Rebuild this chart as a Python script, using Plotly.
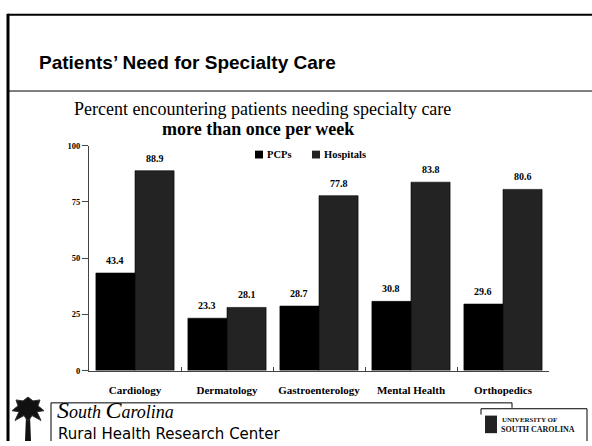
import plotly.graph_objects as go

W, H = 592, 446

categories = ["Cardiology", "Dermatology", "Gastroenterology", "Mental Health", "Orthopedics"]
pcps = [43.4, 23.3, 28.7, 30.8, 29.6]
hospitals = [88.9, 28.1, 77.8, 83.8, 80.6]
series_names = ["PCPs", "Hospitals"]
series_colors = ["#000000", "#232323"]
y_ticks = [0, 25, 50, 75, 100]

title_text = "Patients’ Need for Specialty Care"
subtitle1 = "Percent encountering patients needing specialty care"
subtitle2 = "more than once per week"


def px(x):
    return x / W


def py(y):
    return 1 - y / H


SERIF = "Liberation Serif, Times New Roman, serif"
SANS = "Liberation Sans, Arial, sans-serif"

fig = go.Figure()
for name, vals, col in zip(series_names, [pcps, hospitals], series_colors):
    fig.add_trace(go.Bar(
        x=categories, y=vals, name=name,
        marker=dict(color=col, line=dict(color="#000000", width=0.6)),
        showlegend=False, hoverinfo="x+y",
    ))

annotations = []
# value labels above bars
for i, (name, vals) in enumerate(zip(series_names, [pcps, hospitals])):
    for cat_i, v in enumerate(vals):
        annotations.append(dict(
            x=cat_i + (-0.2125 if i == 0 else 0.2125), y=v, xref="x", yref="y",
            text=f"<b>{v:.1f}</b>", showarrow=False, yanchor="bottom", yshift=5,
            font=dict(family=SERIF, size=10, color="#000000"),
        ))

# manual legend
leg_items = [(255, series_names[0], series_colors[0]), (312, series_names[1], series_colors[1])]
shapes = []
for lx, name, col in leg_items:
    shapes.append(dict(type="rect", xref="paper", yref="paper",
                       x0=px(lx), x1=px(lx + 8), y0=py(157), y1=py(149),
                       fillcolor=col, line=dict(width=0)))
    annotations.append(dict(x=px(lx + 10), y=py(153), xref="paper", yref="paper",
                            text=f"<b>{name}</b>", showarrow=False, xanchor="left", yanchor="middle",
                            font=dict(family=SERIF, size=10.5, color="#000000")))

# title & subtitles
annotations.append(dict(x=px(37), y=py(59), xref="paper", yref="paper", text=f"<b>{title_text}</b>",
                        showarrow=False, xanchor="left", yanchor="middle",
                        font=dict(family=SANS, size=19, color="#000000")))
annotations.append(dict(x=px(262), y=py(106), xref="paper", yref="paper", text=subtitle1,
                        showarrow=False, xanchor="center", yanchor="middle",
                        font=dict(family=SERIF, size=18, color="#000000")))
annotations.append(dict(x=px(258), y=py(127), xref="paper", yref="paper", text=f"<b>{subtitle2}</b>",
                        showarrow=False, xanchor="center", yanchor="middle",
                        font=dict(family=SERIF, size=18, color="#000000")))

# footer texts
annotations.append(dict(x=px(55), y=py(414), xref="paper", yref="paper",
                        text="<i><span style='font-size:24px'>S</span>outh <span style='font-size:24px'>C</span>arolina</i>",
                        showarrow=False, xanchor="left", yanchor="middle",
                        font=dict(family=SERIF, size=18, color="#000000")))
annotations.append(dict(x=px(56), y=py(439), xref="paper", yref="paper",
                        text="Rural Health Research Center",
                        showarrow=False, xanchor="left", yanchor="middle",
                        font=dict(family="DejaVu Sans, sans-serif", size=15, color="#000000")))
annotations.append(dict(x=px(500), y=py(425), xref="paper", yref="paper",
                        text="<b>UNIVERSITY OF</b>", showarrow=False, xanchor="left", yanchor="middle",
                        font=dict(family=SERIF, size=7, color="#111111")))
annotations.append(dict(x=px(499), y=py(434), xref="paper", yref="paper",
                        text="<b>SOUTH CAROLINA</b>", showarrow=False, xanchor="left", yanchor="middle",
                        font=dict(family=SERIF, size=8, color="#111111")))

line_k = dict(color="#000000", width=1)
# frame
shapes += [
    dict(type="line", xref="paper", yref="paper", x0=px(8), x1=px(8), y0=py(9), y1=py(446),
         line=dict(color="#000000", width=3)),
    dict(type="line", xref="paper", yref="paper", x0=px(8), x1=px(592), y0=py(10), y1=py(10),
         line=dict(color="#000000", width=2)),
    dict(type="line", xref="paper", yref="paper", x0=px(8), x1=px(592), y0=py(88), y1=py(88),
         line=dict(color="#000000", width=1)),
    # SC box
    dict(type="path", xref="paper", yref="paper",
         path=f"M{px(51)},{py(446)} L{px(51)},{py(407)} L{px(512)},{py(407)} L{px(512)},{py(412)}",
         line=line_k),
    # USC box
    dict(type="path", xref="paper", yref="paper",
         path=f"M{px(481)},{py(419)} L{px(481)},{py(413)} L{px(587)},{py(413)} L{px(587)},{py(446)}",
         line=line_k),
    # USC emblem
    dict(type="rect", xref="paper", yref="paper", x0=px(485), x1=px(497), y0=py(438), y1=py(420),
         fillcolor="#222222", line=dict(width=0)),
    # palm trunk
    dict(type="path", xref="paper", yref="paper",
         path=f"M{px(26)},{py(420)} L{px(25)},{py(446)} L{px(31)},{py(446)} L{px(30)},{py(420)} Z",
         fillcolor="#111111", line=dict(width=0)),
    # palm fronds
    dict(type="path", xref="paper", yref="paper",
         path=(f"M{px(28)},{py(401)} L{px(33)},{py(405)} L{px(40)},{py(404)} L{px(38)},{py(410)} "
               f"L{px(44)},{py(415)} L{px(37)},{py(416)} L{px(41)},{py(425)} L{px(32)},{py(420)} "
               f"L{px(28)},{py(426)} L{px(24)},{py(420)} L{px(15)},{py(425)} L{px(19)},{py(416)} "
               f"L{px(12)},{py(415)} L{px(18)},{py(410)} L{px(16)},{py(404)} L{px(23)},{py(405)} Z"),
         fillcolor="#111111", line=dict(color="#333333", width=1)),
]

fig.update_layout(
    width=W, height=H, autosize=False,
    margin=dict(l=0, r=0, t=0, b=0),
    paper_bgcolor="#ffffff", plot_bgcolor="#ffffff",
    barmode="group", bargap=0.15, bargroupgap=0,
    showlegend=False,
    annotations=annotations, shapes=shapes,
    xaxis=dict(
        domain=[px(89), px(549)], range=[-0.5, 4.5],
        showline=True, linecolor="#444444", linewidth=1,
        ticks="inside", tickson="boundaries", ticklen=4, tickcolor="#444444",
        showgrid=False, zeroline=False,
        tickfont=dict(family=SERIF, size=11, color="#000000"),
        tickvals=list(range(len(categories))),
        ticktext=[f"<b>{c}</b>" for c in categories],
        ticklabelstandoff=9,
    ),
    yaxis=dict(
        domain=[py(374), py(144)], range=[0, 100],
        showline=True, linecolor="#444444", linewidth=1,
        ticks="outside", ticklen=6, tickcolor="#444444",
        tickvals=y_ticks, ticktext=[f"<b>{t}</b>" for t in y_ticks],
        showgrid=False, zeroline=False,
        tickfont=dict(family=SERIF, size=8.5, color="#000000"),
    ),
)

fig.write_html("out.html", config={"displayModeBar": False},
               post_script="document.body.style.margin='0';document.body.style.overflow='hidden';")
